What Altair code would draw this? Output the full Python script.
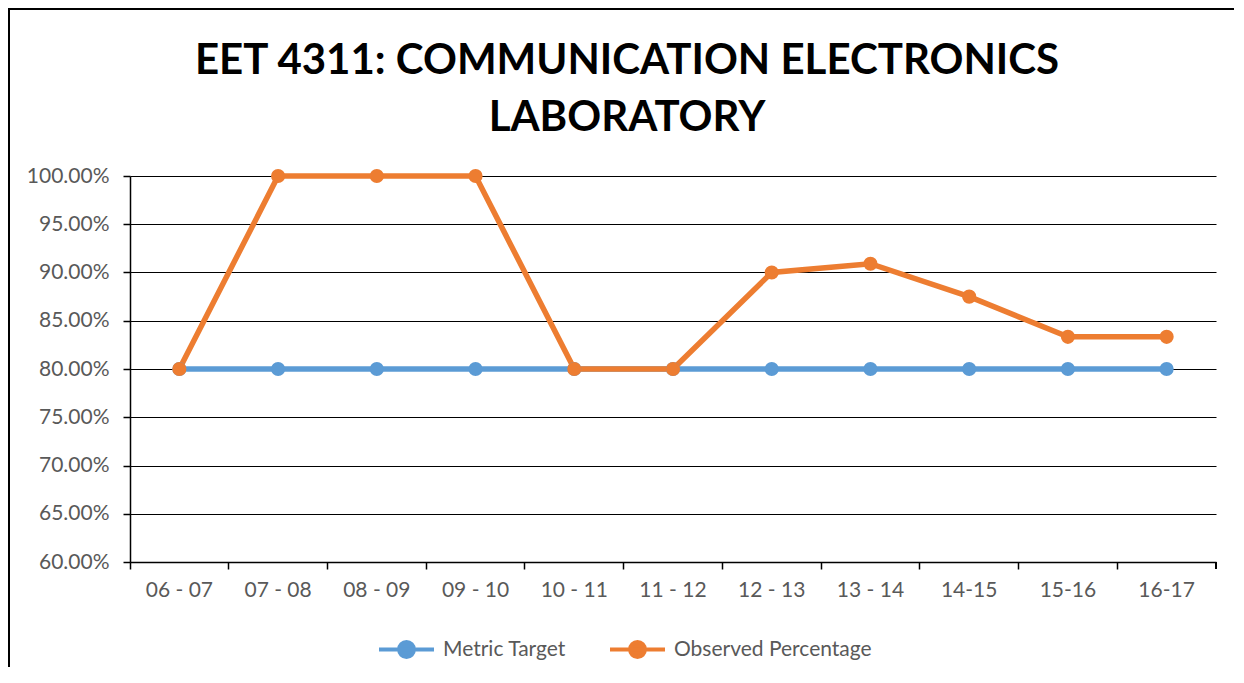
import altair as alt
import pandas as pd

categories = ["06 - 07", "07 - 08", "08 - 09", "09 - 10", "10 - 11", "11 - 12",
              "12 - 13", "13 - 14", "14-15", "15-16", "16-17"]
metric_target = [0.80] * 11
observed = [0.80, 1.00, 1.00, 1.00, 0.80, 0.80, 0.90, 0.9091, 0.875, 0.8333, 0.8333]
series_names = ["Metric Target", "Observed Percentage"]
series_colors = ["#5B9BD5", "#ED7D31"]
y_ticks = [0.60, 0.65, 0.70, 0.75, 0.80, 0.85, 0.90, 0.95, 1.00]

rows = []
for name, vals in zip(series_names, [metric_target, observed]):
    for c, v in zip(categories, vals):
        rows.append({"Period": c, "Series": name, "Value": v})
df = pd.DataFrame(rows)

W, H = 1086, 386
FONT = "Lato"

sym = "M-1,0H1M0.27,0A0.27,0.27,0,1,1,-0.27,0A0.27,0.27,0,1,1,0.27,0Z"

x_enc = alt.X("Period:N", sort=categories, title=None,
              scale=alt.Scale(type="band", paddingInner=0, paddingOuter=0),
              axis=alt.Axis(bandPosition=0, labelAngle=0, labelFontSize=21, labelFont=FONT,
                            labelColor="#595959", labelPadding=10, tickSize=7, tickColor="black",
                            tickWidth=1.5, domainColor="black", domainWidth=1.5, grid=False))
y_enc = alt.Y("Value:Q", title=None,
              scale=alt.Scale(domain=[0.6, 1.0], nice=False, zero=False),
              axis=alt.Axis(values=y_ticks, format=".2%", labelFontSize=21, labelFont=FONT,
                            labelColor="#595959", labelPadding=14, tickSize=7, tickColor="black",
                            tickWidth=1.5, domainColor="black", domainWidth=1.5,
                            grid=True, gridColor="black", gridWidth=1.2))
color_enc = alt.Color("Series:N", sort=series_names,
                      scale=alt.Scale(domain=series_names, range=series_colors),
                      legend=alt.Legend(title=None, orient="none", legendX=247, legendY=444,
                                        direction="horizontal", symbolType=sym, symbolSize=3025,
                                        symbolStrokeWidth=4, labelFontSize=21, labelFont=FONT,
                                        labelColor="#595959", labelOffset=7, columnPadding=36,
                                        labelLimit=400))

base = alt.Chart(df)
lines = base.mark_line(strokeWidth=5.5).encode(x=x_enc, y=y_enc, color=color_enc)
points = base.mark_point(filled=True, size=200, opacity=1).encode(x=x_enc, y=y_enc, color=color_enc)

frame = alt.Chart(df).mark_rect(fill=None, stroke="black", strokeWidth=2).encode(
    x=alt.value(-121), x2=alt.value(1300), y=alt.value(-167), y2=alt.value(700))
end_tick = alt.Chart(df).mark_rule(color="black", strokeWidth=1.5).encode(
    x=alt.value(W), y=alt.value(H), y2=alt.value(H + 7))

chart = alt.layer(frame, end_tick, lines, points).properties(
    width=W, height=H,
    autosize=alt.AutoSizeParams(type="none"),
    padding={"left": 122, "top": 168, "right": 18, "bottom": 105},
    title=alt.TitleParams(text=["EET 4311: COMMUNICATION ELECTRONICS", "LABORATORY"],
                          font=FONT, fontSize=42, fontWeight="bold", color="black",
                          anchor="middle", frame="group", dx=-46, offset=-132, lineHeight=57),
).configure_view(stroke=None)

chart.save("out.html", embed_options={"renderer": "svg", "actions": False})
